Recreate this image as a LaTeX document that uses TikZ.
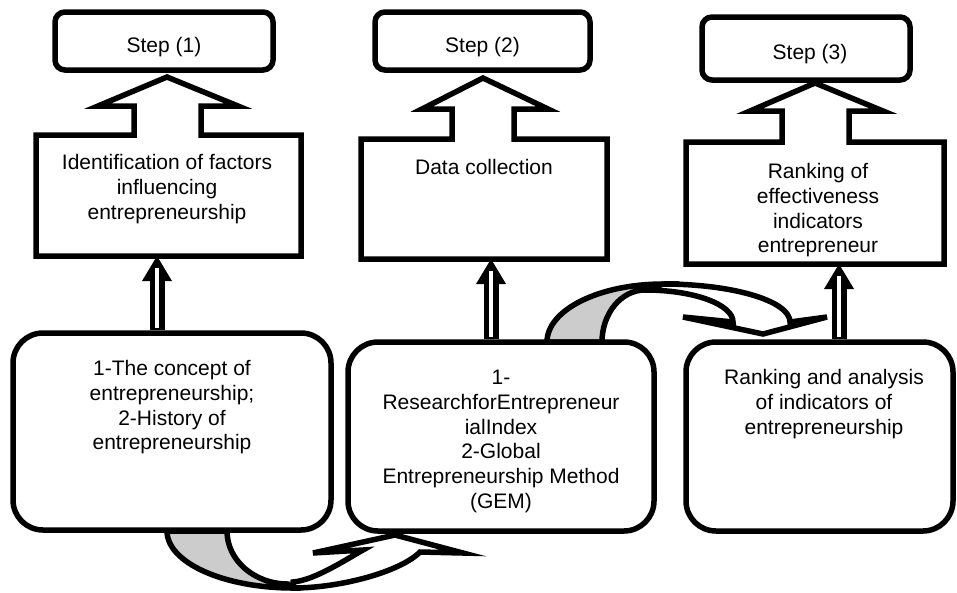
\documentclass[tikz,border=0pt]{standalone}
\usepackage{fontspec}
\setmainfont{Liberation Sans}
\definecolor{bandgray}{RGB}{204,204,204}
\begin{document}
\begin{tikzpicture}[x=1pt,y=-1pt,line width=5.5pt,
  stepbox/.style={draw, rounded corners=10pt, fill=white, inner sep=0pt},
  roundbox/.style={draw, rounded corners=30pt, fill=white, inner sep=0pt},
  callout/.style={draw, fill=white, line join=miter},
  band/.style={draw, line join=miter},
  txt/.style={font=\fontsize{21}{24.7}\selectfont, align=center, anchor=north, inner sep=0pt}]
\useasboundingbox (0,0) rectangle (957,592);

% curved arrow, bottom (box A -> box B)
\draw[band, fill=bandgray] (167,531) .. controls (167,562.5) and (223.4,588) .. (293,588)
  -- (288,584) .. controls (254.3,584) and (227,560.3) .. (227,531) -- cycle;
\draw[band, fill=white] (293,582) .. controls (315,580) and (345,560) .. (363,550)
  -- (313,553) -- (395,535) -- (463,553) -- (420,552)
  .. controls (400,572) and (340,588) .. (293,588) -- cycle;

% curved arrow, top (box B -> box C)
\draw[band, fill=bandgray] (547,342) .. controls (547,310) and (598.9,284) .. (663,284)
  -- (645,290) .. controls (621.3,290) and (602,313.3) .. (602,342) -- cycle;
\draw[band, fill=white] (645,290) .. controls (693.6,290) and (733,304.3) .. (733,322)
  -- (683,317) -- (763,334) -- (827,317) -- (790,322)
  .. controls (790,301) and (733.1,284) .. (663,284) -- cycle;

% callout bottoms
\coordinate (c1b) at (157,256);
\coordinate (c2b) at (491,259);
\coordinate (c3b) at (839,264);

% bottom boxes
\node[roundbox, minimum width=318pt, minimum height=197pt] (A) at (172,431.5) {};
\node[roundbox, minimum width=306pt, minimum height=189pt] (B) at (501,436.5) {};
\node[roundbox, minimum width=267pt, minimum height=189pt] (C) at (819.5,436.5) {};

% double arrows
\foreach \bx/\cb in {A/c1b,B/c2b,C/c3b}{
  \draw[line width=15pt] (\bx.north -| \cb) -- ([yshift=-24pt]\cb);
  \fill ([xshift=-15pt,yshift=-25pt]\cb) -- (\cb) -- ([xshift=15pt,yshift=-25pt]\cb) -- cycle;
  \draw[white, line width=4.5pt] ([yshift=2.5pt]\bx.north -| \cb) -- ([yshift=-12pt]\cb);
}

% callouts
\draw[callout] (36,256) -- (36,135) -- (134,135) -- (134,106) -- (98,106) -- (167,77)
  -- (238,106) -- (201,106) -- (201,135) -- (301,135) -- (301,256) -- cycle;
\draw[callout] (361,259) -- (361,139) -- (452,139) -- (452,109) -- (422,109) -- (483,78)
  -- (548,109) -- (514,109) -- (514,139) -- (607,139) -- (607,259) -- cycle;
\draw[callout] (686,264) -- (686,142) -- (782,142) -- (782,111) -- (750,111) -- (815,83)
  -- (883,111) -- (849,111) -- (849,142) -- (944,142) -- (944,264) -- cycle;

% step boxes
\node[stepbox, minimum width=218pt, minimum height=58pt] (s1) at (164,41) {};
\node[stepbox, minimum width=215pt, minimum height=58pt] (s2) at (482.5,41) {};
\node[stepbox, minimum width=208pt, minimum height=63pt] (s3) at (806,48.5) {};

% texts
\node[txt] (s1t) at (164,32.7) {\strut Step (1)};
\node[txt] (s2t) at (482.5,32.7) {\strut Step (2)};
\node[txt] (s3t) at (810,39.7) {\strut Step (3)};
\node[txt] (t1) at (167,149.7) {\strut Identification of factors\\influencing\\entrepreneurship};
\node[txt] (t2) at (484,154.7) {\strut Data collection};
\node[txt] (t3) at (818,158.7) {\strut Ranking of\\effectiveness\\indicators\\entrepreneur};
\node[txt] (tA) at (172,355.7) {\strut 1-The concept of\\entrepreneurship;\\2-History of\\entrepreneurship};
\node[txt] (tB) at (501,364.7) {\strut 1-\\ResearchforEntrepreneur\\ialIndex\\2-Global\\Entrepreneurship Method\\(GEM)};
\node[txt] (tC) at (824,364.7) {\strut Ranking and analysis\\of indicators of\\entrepreneurship};
\end{tikzpicture}
\end{document}
